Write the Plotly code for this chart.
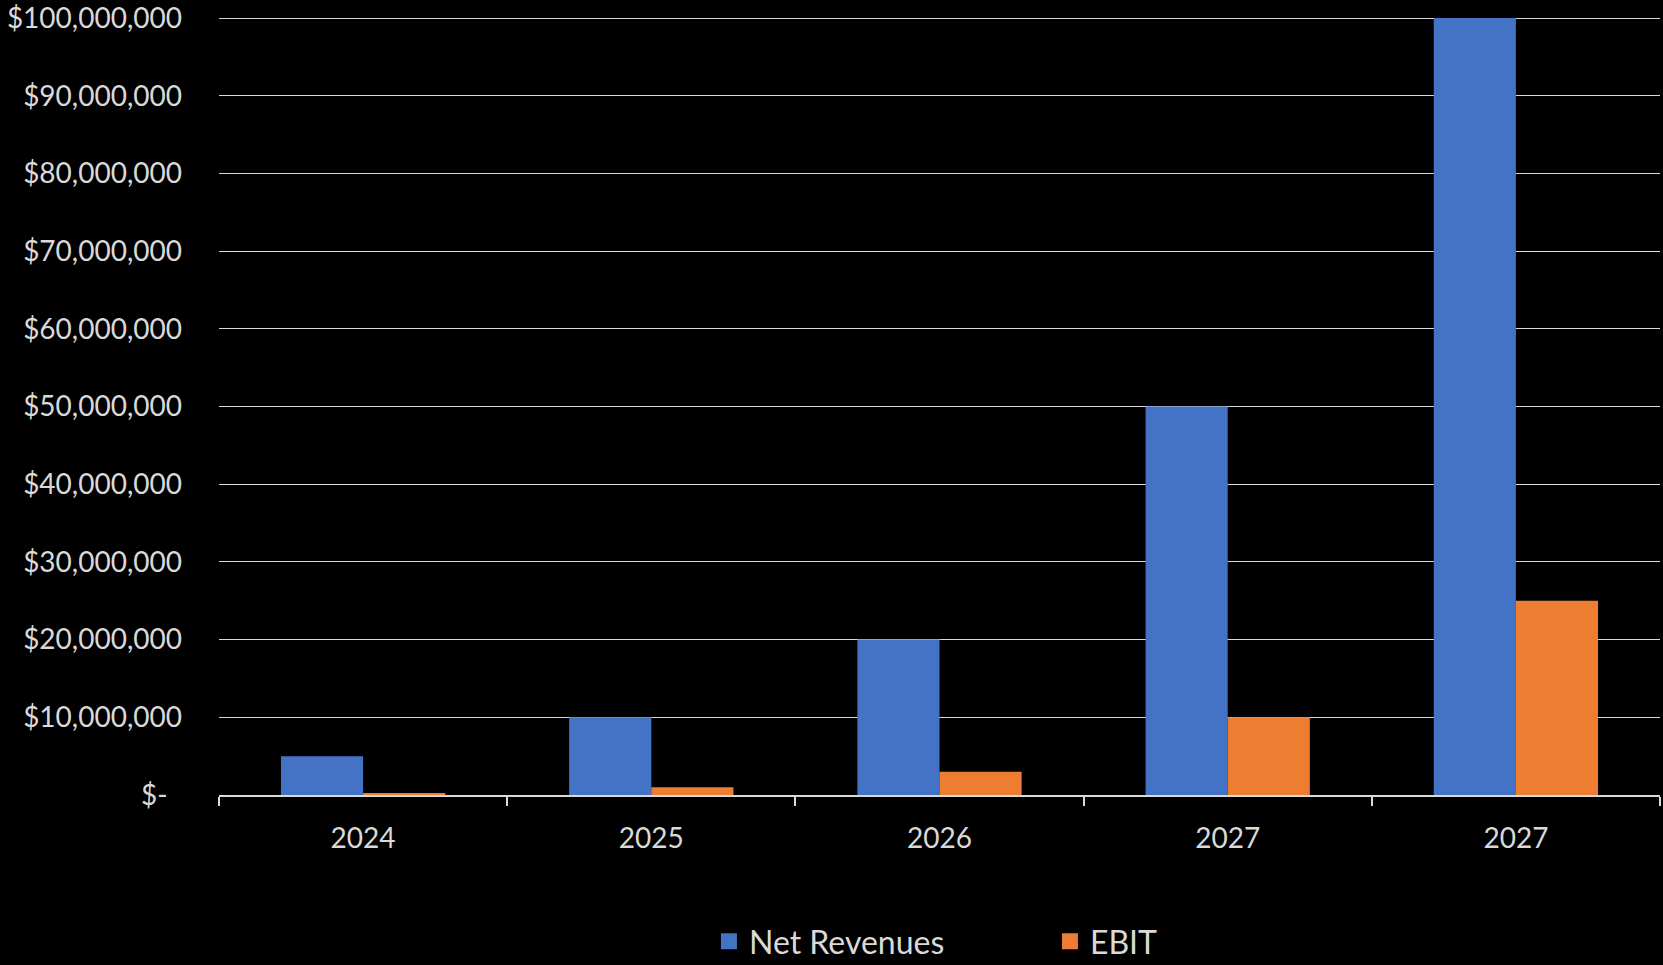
import plotly.graph_objects as go

years = ["2024", "2025", "2026", "2027", "2027"]
net_revenues = [5_000_000, 10_000_000, 20_000_000, 50_000_000, 100_000_000]
ebit = [250_000, 1_000_000, 3_000_000, 10_000_000, 25_000_000]
y_ticks = [0, 10_000_000, 20_000_000, 30_000_000, 40_000_000, 50_000_000,
           60_000_000, 70_000_000, 80_000_000, 90_000_000, 100_000_000]

pos = list(range(len(years)))
y_text = [("$" + format(v, ",")) if v else "$-\u00a0\u00a0" for v in y_ticks]

FONT = "Lato"
TXT = "#D9D9D9"
BLUE = "#4472C4"
ORANGE = "#ED7D31"

fig = go.Figure()
fig.add_trace(go.Bar(x=pos, y=net_revenues, name="Net Revenues", showlegend=False,
                     marker=dict(color=BLUE, line=dict(width=0))))
fig.add_trace(go.Bar(x=pos, y=ebit, name="EBIT", showlegend=False,
                     marker=dict(color=ORANGE, line=dict(width=0))))
# legend entries with larger square swatches
fig.add_trace(go.Scatter(x=[None], y=[None], mode="markers", name="Net Revenues",
                         marker=dict(symbol="square", size=19, color=BLUE)))
fig.add_trace(go.Scatter(x=[None], y=[None], mode="markers", name="EBIT",
                         marker=dict(symbol="square", size=19, color=ORANGE)))

fig.update_layout(
    width=1663, height=965,
    paper_bgcolor="black", plot_bgcolor="black",
    font=dict(family=FONT, size=28, color=TXT),
    barmode="group", bargap=0.43, bargroupgap=0,
    margin=dict(l=219, r=3, t=16, b=170, autoexpand=False),
    showlegend=True,
    legend=dict(orientation="h", x=0.34, xanchor="left", y=-0.188, yanchor="middle",
                font=dict(family=FONT, size=32, color=TXT), itemsizing="trace",
                entrywidth=296, entrywidthmode="pixels", bgcolor="rgba(0,0,0,0)"),
)
fig.update_xaxes(
    range=[-0.5, len(years) - 0.5], tickmode="array", tickvals=pos, ticktext=years,
    ticks="", showgrid=False, zeroline=False,
    showline=True, linecolor="#D9D9D9", linewidth=1.5,
    ticklabelstandoff=18,
    minor=dict(tickmode="array", tickvals=[p - 0.5 for p in pos] + [pos[-1] + 0.5],
               ticks="outside", ticklen=9, tickwidth=1.5, tickcolor="#D9D9D9", showgrid=False),
)
fig.update_yaxes(
    range=[0, 100_257_400], tickmode="array", tickvals=y_ticks, ticktext=y_text,
    ticks="", showgrid=True, gridcolor="#D9D9D9", gridwidth=1.3,
    zeroline=False, showline=False, ticklabelstandoff=36, ticklabeloverflow="allow",
)

fig.write_html("out.html", config={"displayModeBar": False},
               post_script="document.body.style.margin='0';document.body.style.background='black';")
